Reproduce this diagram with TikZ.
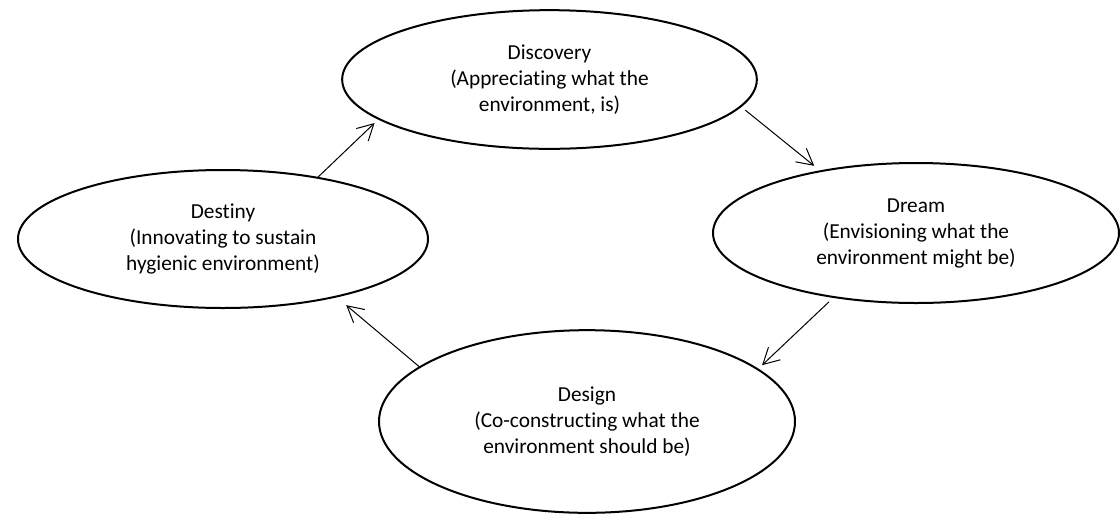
\documentclass[tikz,border=0pt]{standalone}
\usepackage{fontspec}
\setmainfont{Carlito}[Ligatures=NoCommon]
\usetikzlibrary{arrows.meta,shapes,positioning}
\begin{document}
\begin{tikzpicture}[x=0.75pt,y=-0.75pt]
	\tikzstyle{every node}=[font=\fontsize{16}{19.5}\selectfont]
	\tikzstyle{phase}=[ellipse, draw, line width=1.5pt, inner sep=0pt, outer sep=0pt, align=center]
	\tikzstyle{link}=[line width=0.75pt, -{Straight Barb[length=12pt,width=13pt]}]
	\useasboundingbox (0,0) rectangle (1120,515);
	\node [phase, minimum width=311pt, minimum height=104pt] (discovery) at (549.5,79.5) {Discovery\\(Appreciating what the\\environment, is)};
	\node [phase, minimum width=304.5pt, minimum height=105pt] (dream) at (916,233) {Dream\\(Envisioning what the\\environment might be)};
	\node [phase, minimum width=312pt, minimum height=137pt] (design) at (587,421.5) {Design\\(Co-constructing what the\\environment should be)};
	\node [phase, minimum width=307.5pt, minimum height=103.5pt] (destiny) at (223,239) {Destiny\\(Innovating to sustain\\hygienic environment)};
	\draw [link, shorten >=4.5pt] (destiny.33) -- (discovery.193);
	\draw [link, shorten <=4.5pt, shorten >=6.4pt] (discovery.352) -- (dream.147.5);
	\draw [link, shorten <=5.25pt, shorten >=4.5pt] (dream.218.4) -- (design.17.1);
	\draw [link, shorten >=10pt] (design.162) -- (destiny.333);
\end{tikzpicture}
\end{document}
